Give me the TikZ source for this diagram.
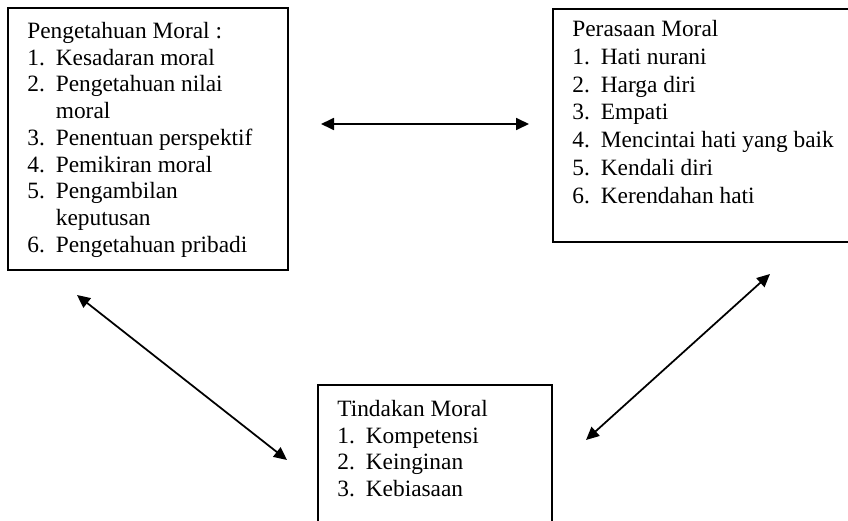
\documentclass[tikz,border=0pt]{standalone}
\usepackage{fontspec}
\setmainfont{Liberation Serif}
\usetikzlibrary{positioning, arrows.meta}

\newcommand{\nr}[1]{\makebox[0.57cm][l]{#1}}
\newcommand{\cont}{\hspace*{0.57cm}}

\begin{document}
\begin{tikzpicture}[
    boxnode/.style={rectangle, draw=black, line width=1pt, anchor=north west, inner sep=0pt},
    textnode/.style={align=left, inner sep=0pt, font=\fontsize{13.3}{15.2}\selectfont},
    twoway/.style={{Triangle[length=0.26cm, width=0.24cm]}-{Triangle[length=0.26cm, width=0.24cm]}, line width=1pt}
]
\useasboundingbox (0,0) rectangle (16.96,-10.42);

\node[boxnode, minimum width=5.6cm, minimum height=5.24cm](know) at (0.14,-0.14){};
\node[boxnode, minimum width=6.16cm, minimum height=4.66cm](feel) at (11.04,-0.16){};
\node[boxnode, minimum width=4.68cm, minimum height=3.2cm](act) at (6.34,-7.68){};

\node[textnode](knowtxt)[below right = 0.3cm and 0.4cm of know.north west]{Pengetahuan Moral :\\
\nr{1.}Kesadaran moral\\
\nr{2.}Pengetahuan nilai\\
\cont moral\\
\nr{3.}Penentuan perspektif\\
\nr{4.}Pemikiran moral\\
\nr{5.}Pengambilan\\
\cont keputusan\\
\nr{6.}Pengetahuan pribadi};

\node[textnode, font=\fontsize{13.3}{15.8}\selectfont](feeltxt)[below right = 0.24cm and 0.4cm of feel.north west]{Perasaan Moral\\
\nr{1.}Hati nurani\\
\nr{2.}Harga diri\\
\nr{3.}Empati\\
\nr{4.}Mencintai hati yang baik\\
\nr{5.}Kendali diri\\
\nr{6.}Kerendahan hati};

\node[textnode](acttxt)[below right = 0.32cm and 0.4cm of act.north west]{Tindakan Moral\\
\nr{1.}Kompetensi\\
\nr{2.}Keinginan\\
\nr{3.}Kebiasaan};

% arrow ends
\coordinate (h1) at (6.42,-2.48);
\coordinate (h2) at (10.58,-2.48);
\coordinate (l1) at (1.54,-5.9);
\coordinate (l2) at (5.74,-9.2);
\coordinate (r1) at (11.72,-8.8);
\coordinate (r2) at (15.4,-5.48);

\draw[twoway] (h1) -- (h2);
\draw[twoway] (l1) -- (l2);
\draw[twoway] (r1) -- (r2);
\end{tikzpicture}
\end{document}
